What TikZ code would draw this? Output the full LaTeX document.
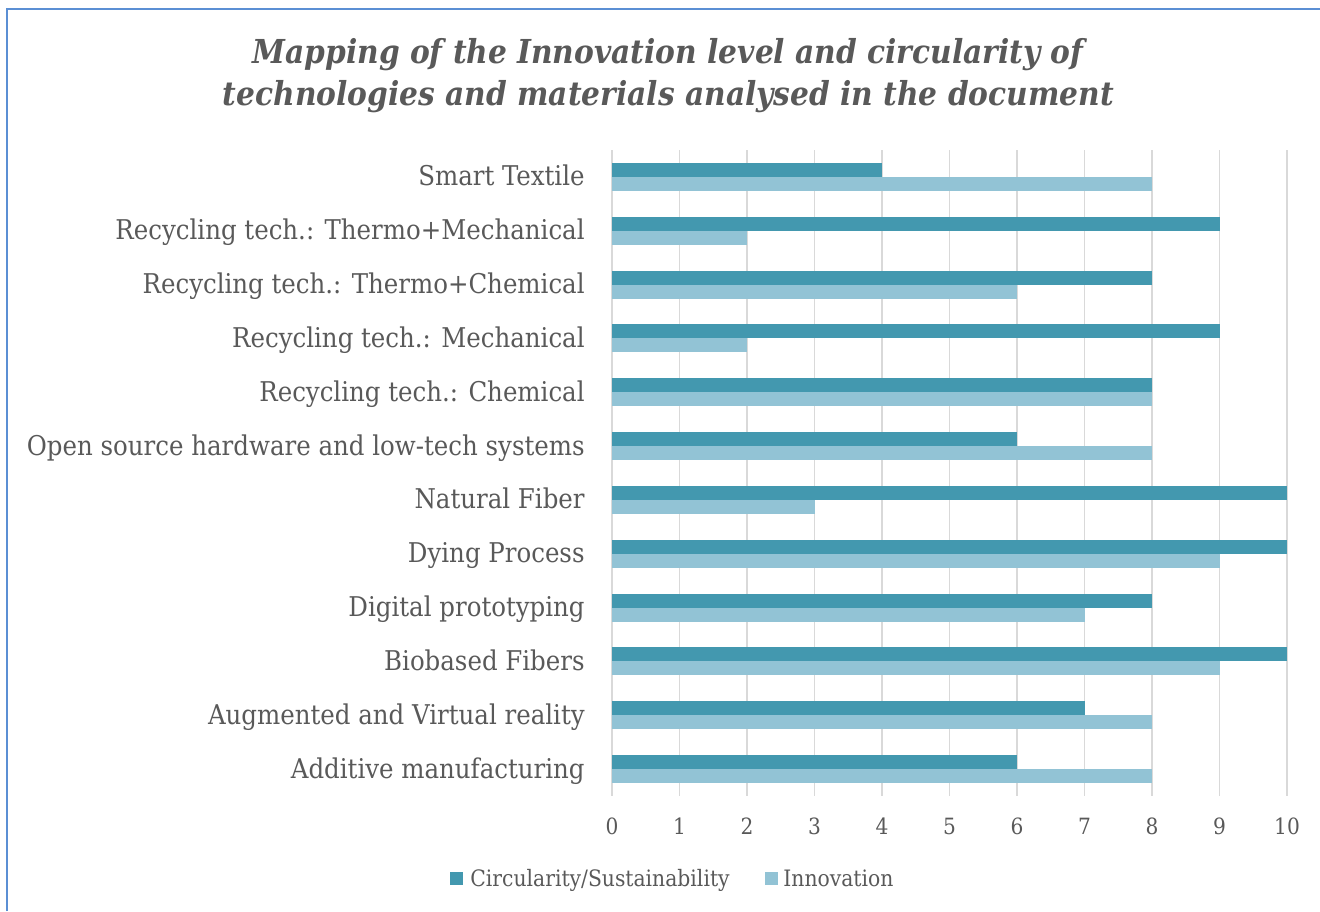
\documentclass[tikz,border=0pt]{standalone}
\usepackage{fontspec}
\setmainfont{DejaVu Serif Condensed}
\definecolor{txt}{HTML}{595959}
\definecolor{darkbar}{HTML}{4398AF}
\definecolor{lightbar}{HTML}{92C3D5}
\definecolor{gridc}{HTML}{D9D9D9}
\definecolor{framec}{HTML}{5B8FD4}
\tikzset{
  catlabel/.style={anchor=base east, inner sep=0pt, text=txt, font=\fontsize{13.6}{15}\selectfont},
  ticklabel/.style={anchor=base, inner sep=0pt, text=txt, font=\fontsize{11.2}{13}\selectfont},
  legtext/.style={anchor=base west, inner sep=0pt, text=txt, font=\fontsize{11.3}{13}\selectfont},
  titletext/.style={anchor=base, inner sep=0pt, text=txt, font=\fontsize{16.5}{20}\selectfont\bfseries\itshape},
  gridline/.style={draw=gridc, line width=0.8pt},
  darkfill/.style={fill=darkbar},
  lightfill/.style={fill=lightbar},
}
\begin{document}
\begin{tikzpicture}[x=0.5pt,y=-0.5pt]
\useasboundingbox (0,0) rectangle (1320,911);
% frame (only top and left edges visible)
\draw[framec, line width=1pt] (6.5,911) -- (6.5,9) -- (1320,9);
% title
\node[titletext] (t1) at (668,63) {Mapping of the Innovation level and circularity of};
\node[titletext] (t2) at (668.5,105) {technologies and materials analysed in the document};
% gridlines and tick labels
\foreach \k in {0,...,10}{
  \draw[gridline] (612+67.5*\k,150) -- (612+67.5*\k,796);
  \node[ticklabel] (tick\k) at (612+67.5*\k,834) {\k};
}
% bars and category labels
\foreach \lab/\a/\b [count=\i from 0] in {
  Smart Textile/4/8,
  Recycling tech.: Thermo+Mechanical/9/2,
  Recycling tech.: Thermo+Chemical/8/6,
  Recycling tech.: Mechanical/9/2,
  Recycling tech.: Chemical/8/8,
  Open source hardware and low-tech systems/6/8,
  Natural Fiber/10/3,
  Dying Process/10/9,
  Digital prototyping/8/7,
  Biobased Fibers/10/9,
  Augmented and Virtual reality/7/8,
  Additive manufacturing/6/8}{
  \pgfmathsetmacro{\cy}{150+53.833*(\i+0.5)}
  \fill[darkfill] (612,\cy-14) rectangle (612+67.5*\a,\cy);
  \fill[lightfill] (612,\cy) rectangle (612+67.5*\b,\cy+14);
  \node[catlabel] (lab\i) at (585,\cy+9) {\lab};
}
% legend
\fill[darkfill] (450,872) rectangle (463,885) coordinate (legA);
\node[legtext] (leg1) at (470,886) {Circularity/Sustainability};
\fill[lightfill] (765,872) rectangle (778,885) coordinate (legB);
\node[legtext] (leg2) at (783,886) {Innovation};
\end{tikzpicture}
\end{document}
